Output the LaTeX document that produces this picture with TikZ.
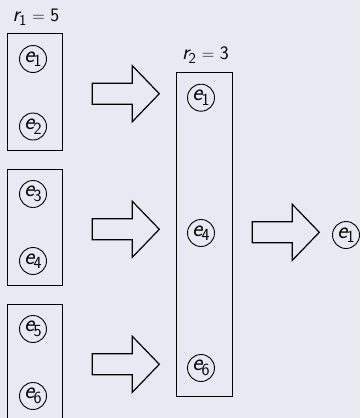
\documentclass[tikz,border=0pt]{standalone}
\usepackage{fontspec}
\definecolor{bgc}{RGB}{233,233,243}
\newcommand{\mvar}[2]{{\fontsize{24}{24}\selectfont\sffamily\itshape #1}\kern-1pt\raisebox{-4.5pt}{\fontsize{17}{17}\selectfont\sffamily #2}}
\newcommand{\rlab}[2]{{\fontsize{22}{22}\selectfont\sffamily\itshape r}\kern-0.5pt\raisebox{-4pt}{\fontsize{15}{15}\selectfont\sffamily #1}\fontsize{19}{19}\selectfont\ $=$ \sffamily #2}
\begin{document}
\begin{tikzpicture}[x=1pt,y=-1pt,
  lbl/.style={inner sep=0pt},
  elem/.style={draw,circle,line width=0.9pt,inner sep=0pt,minimum size=27pt},
  grp/.style={draw,line width=1pt},
  bigarrow/.style={draw,line width=1.2pt,fill=bgc,line join=miter}]
\fill[bgc] (0,0) rectangle (360,418);
\useasboundingbox (0,0) rectangle (360,418);
\clip (0,0) rectangle (360,418);
% left groups
\draw[grp] (7.3,33.3) rectangle (62.7,150);
\draw[grp] (7.3,169) rectangle (62.7,285.7);
\draw[grp] (7.3,304) rectangle (62.7,421);
\node[elem] (a1) at (33,59) {\mvar{e}{1}};
\node[elem] (a2) at (33,126.5) {\mvar{e}{2}};
\node[elem] (a3) at (33,194) {\mvar{e}{3}};
\node[elem] (a4) at (33,261) {\mvar{e}{4}};
\node[elem] (a5) at (33,329) {\mvar{e}{5}};
\node[elem] (a6) at (33,396) {\mvar{e}{6}};
\node[lbl] (r1) at (36,17) {\rlab{1}{5}};
% middle group
\draw[grp] (176.7,72) rectangle (232,396.7);
\node[lbl] (r2) at (205.5,55) {\rlab{2}{3}};
\node[elem] (m1) at (201,97.7) {\mvar{e}{1}};
\node[elem] (m4) at (201,233) {\mvar{e}{4}};
\node[elem] (m6) at (201,368) {\mvar{e}{6}};
% result
\node[elem] (f1) at (346,235) {\mvar{e}{1}};
% block arrows
\foreach \x/\y in {92.3/93.7, 92.3/229.3, 92.3/364.3, 252.3/232.3}{
  \draw[bigarrow] (\x,\y-10.5) -- ++(40,0) -- ++(0,-17.5) -- (\x+67,\y)
    -- (\x+40,\y+28) -- ++(0,-17.5) -- (\x,\y+10.5) -- cycle;
}
\end{tikzpicture}
\end{document}
